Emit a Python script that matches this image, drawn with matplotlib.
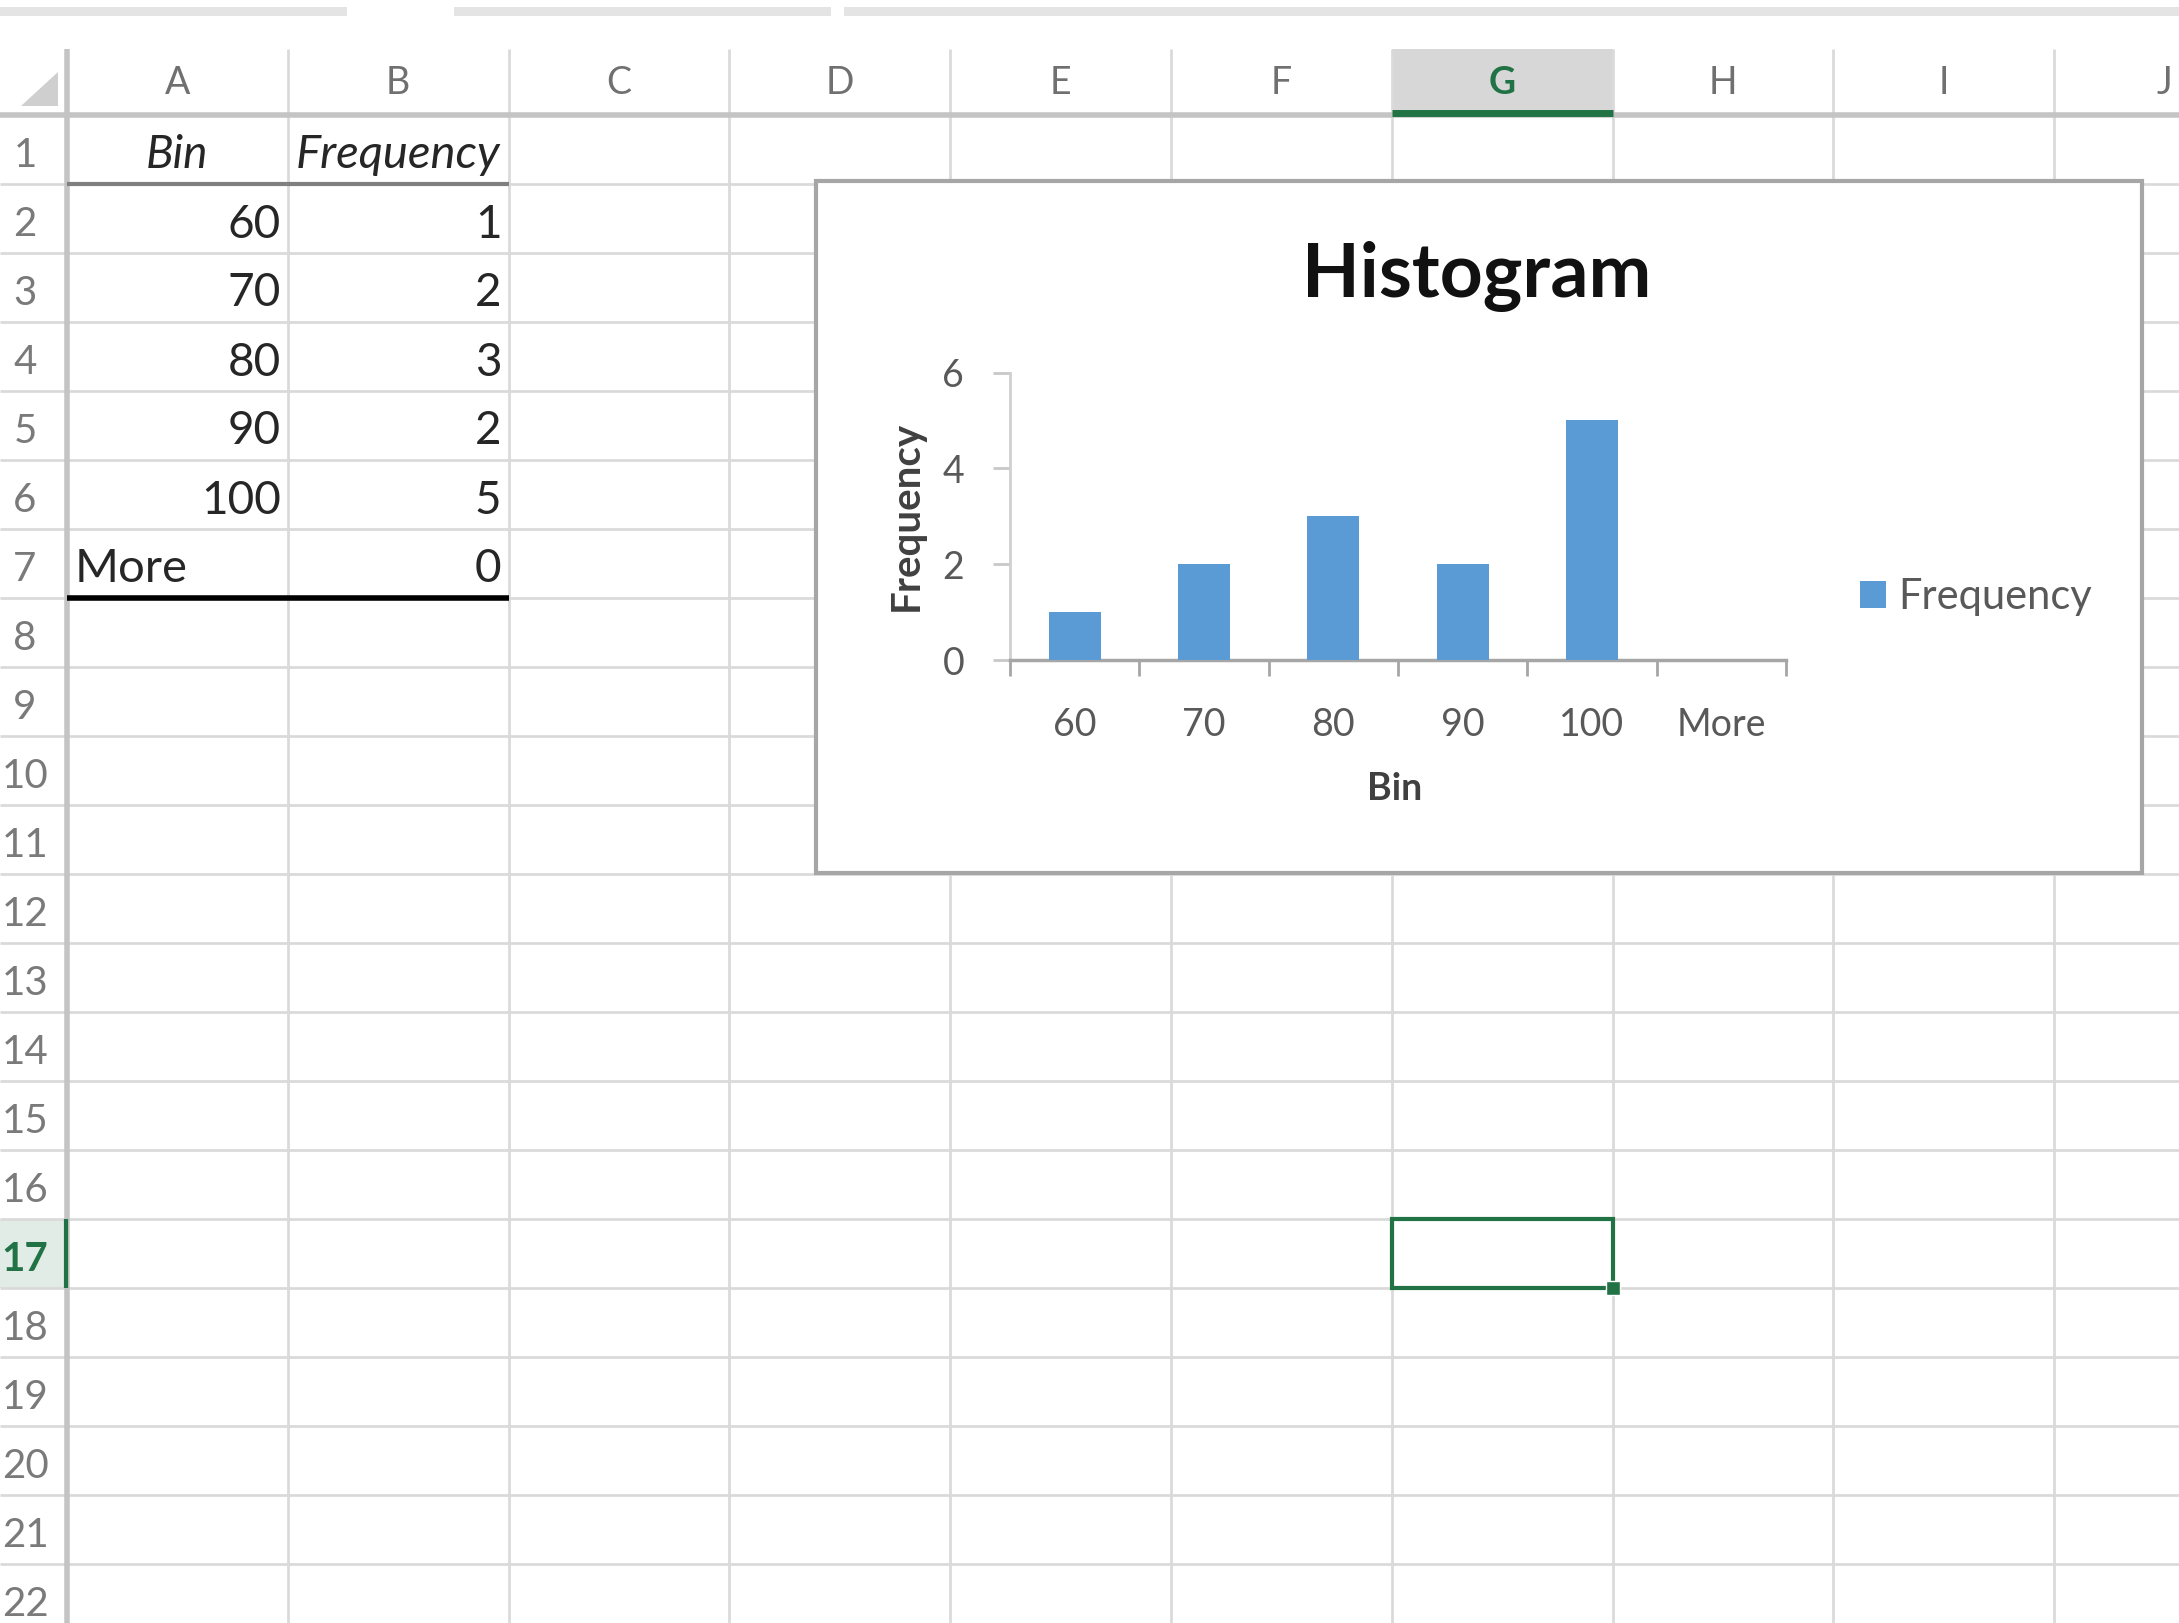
import numpy as np
import matplotlib
matplotlib.use('Agg')
import matplotlib.pyplot as plt
from matplotlib.patches import Rectangle, Polygon

plt.rcParams['font.family'] = ['Lato', 'DejaVu Sans']

# data from the worksheet
bins = ['60', '70', '80', '90', '100', 'More']
frequency = [1, 2, 3, 2, 5, 0]
col_letters = list('ABCDEFGHIJ')
y_ticks = [0, 2, 4, 6]
n_rows = 22
selected_col = 'G'
selected_row = 17

# sheet geometry, in pixels
W, H = 2179, 1623
COL_X0, COL_W = 67, 220.8
ROW_Y0, ROW_H = 115, 69
GREEN = '#217346'
GRID = '#dadada'

fig = plt.figure(figsize=(W / 100, H / 100), dpi=100)
sheet = fig.add_axes([0, 0, 1, 1])
sheet.set_xlim(0, W)
sheet.set_ylim(H, 0)
sheet.axis('off')

# ribbon leftovers at the top
for x0, x1 in [(0, 347), (454, 831), (844, W)]:
    sheet.add_patch(Rectangle((x0, 7), x1 - x0, 9, color='#e4e4e4', lw=0))
sheet.add_patch(Polygon([(21, 106), (58, 72), (58, 106)], color='#cfcfcf', lw=0))

# selected column / row header shading
g = col_letters.index(selected_col)
gx = COL_X0 + g * COL_W
sheet.add_patch(Rectangle((gx, 49), COL_W, ROW_Y0 - 49, color='#d7d7d7', lw=0))
r_top = ROW_Y0 + (selected_row - 1) * ROW_H
sheet.add_patch(Rectangle((0, r_top), COL_X0, ROW_H, color='#e2ece6', lw=0))

# grid
for i in range(len(col_letters) + 1):
    sheet.vlines(COL_X0 + i * COL_W, 49, H, color=GRID, lw=2)
for r in range(n_rows + 1):
    sheet.hlines(ROW_Y0 + r * ROW_H, 0, W, color=GRID, lw=2)
sheet.hlines(ROW_Y0, 0, W, color='#c4c4c4', lw=4)
sheet.vlines(COL_X0, 49, H, color='#c4c4c4', lw=4)
sheet.hlines(ROW_Y0 - 2, gx, gx + COL_W, color=GREEN, lw=5)
sheet.vlines(COL_X0 - 1, r_top, r_top + ROW_H, color=GREEN, lw=3)

# headers
for i, letter in enumerate(col_letters):
    sel = letter == selected_col
    sheet.text(COL_X0 + (i + 0.5) * COL_W, 83, letter, ha='center', va='center',
               fontsize=27, color=GREEN if sel else '#707070',
               weight='bold' if sel else 'normal')


def row_mid(r):
    return ROW_Y0 + (r - 0.5) * ROW_H + 6


for r in range(1, n_rows + 1):
    sel = r == selected_row
    sheet.text(25, row_mid(r), str(r), ha='center', va='center',
               fontsize=29, color=GREEN if sel else '#7a7a7a',
               weight='bold' if sel else 'normal')

# table
sheet.text(COL_X0 + 0.5 * COL_W, row_mid(1), 'Bin', style='italic', ha='center',
           va='center', fontsize=33, color='#262626')
sheet.text(COL_X0 + 1.5 * COL_W, row_mid(1), 'Frequency', style='italic', ha='center',
           va='center', fontsize=34, color='#262626')
for i, (b, f) in enumerate(zip(bins, frequency)):
    y = row_mid(i + 2)
    if b.isdigit():
        sheet.text(COL_X0 + COL_W - 7, y, b, ha='right', va='center', fontsize=33, color='#262626')
    else:
        sheet.text(COL_X0 + 8, y, b, ha='left', va='center', fontsize=34, color='#262626')
    sheet.text(COL_X0 + 2 * COL_W - 7, y, str(f), ha='right', va='center', fontsize=33, color='#262626')
sheet.hlines(ROW_Y0 + ROW_H, COL_X0, COL_X0 + 2 * COL_W, color='#7f7f7f', lw=3)
sheet.hlines(ROW_Y0 + (len(bins) + 1) * ROW_H, COL_X0, COL_X0 + 2 * COL_W, color='black', lw=4)

# active cell
sheet.add_patch(Rectangle((gx, r_top), COL_W, ROW_H, fill=False, ec=GREEN, lw=3, zorder=4))
sheet.add_patch(Rectangle((gx + COL_W - 7, r_top + ROW_H - 7), 14, 14, fc=GREEN, ec='white',
                          lw=1, zorder=4))

# chart area
sheet.add_patch(Rectangle((816, 181), 1326, 692, fc='white', ec='#a6a6a6', lw=3, zorder=5))
sheet.text(1477, 276, 'Histogram', ha='center', va='center', fontsize=54,
           weight='bold', color='#111111', zorder=6)

ax = fig.add_axes([1010 / W, 1 - 660 / H, 776 / W, 287.5 / H], zorder=6)
ax.patch.set_alpha(0)
x = np.arange(len(bins))
ax.bar(x, frequency, width=0.4, color='#5b9bd5', label='Frequency', zorder=3)
ax.set_xlim(-0.5, len(bins) - 0.5)
ax.set_ylim(0, 6)
ax.set_yticks(y_ticks)
ax.set_xticks(x, bins)
ax.set_xticks(np.arange(-0.5, len(bins)), minor=True)
ax.tick_params(axis='x', which='major', length=0, pad=34, labelsize=27, labelcolor='#595959')
ax.tick_params(axis='x', which='minor', length=11.5, width=2, color='#a6a6a6')
ax.tick_params(axis='y', length=12, width=2, color='#c8c8c8', pad=21, labelsize=27,
               labelcolor='#595959')
for s in ['top', 'right']:
    ax.spines[s].set_visible(False)
ax.spines['left'].set_color('#d0d0d0')
ax.spines['left'].set_linewidth(2)
ax.spines['bottom'].set_color('#a6a6a6')
ax.spines['bottom'].set_linewidth(2.5)

ax.set_ylabel('Frequency', fontsize=29, weight='bold', color='#404040', va='center')
ax.yaxis.set_label_coords(-0.134, 0.5)
ax.set_xlabel('Bin', fontsize=27, weight='bold', color='#404040', va='center')
ax.xaxis.set_label_coords(0.496, -0.449)

ax.legend(loc='center left', bbox_to_anchor=(1.095, 0.219), frameon=False, borderpad=0,
          borderaxespad=0, handlelength=0.62, handleheight=0.62, handletextpad=0.3,
          fontsize=30, labelcolor='#595959')

fig.savefig('out.png', dpi=100)
